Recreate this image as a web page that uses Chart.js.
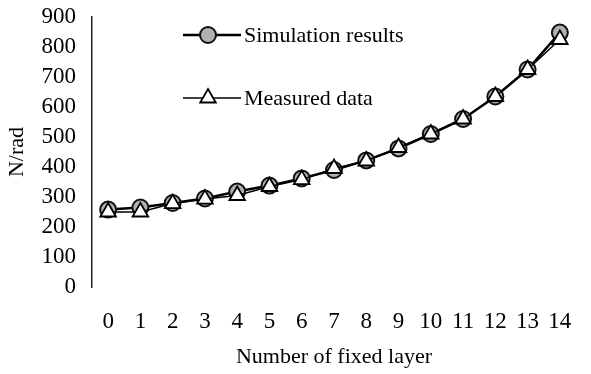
<!DOCTYPE html>
<html>
<head>
<meta charset="utf-8">
<script src="https://cdn.jsdelivr.net/npm/chart.js@4"></script>
<style>
  body { margin: 0; background: #fff; }
  #wrap { width: 591px; height: 374px; }
</style>
</head>
<body>
<div id="wrap"><canvas id="layerChart"></canvas></div>
<script>
var layers = ['0', '1', '2', '3', '4', '5', '6', '7', '8', '9', '10', '11', '12', '13', '14'];
var simulationResults = [258, 265, 280, 295, 318, 338, 362, 390, 422, 462, 510, 560, 635, 725, 848];
var measuredData = [250, 250, 278, 293, 305, 335, 358, 395, 420, 465, 510, 560, 635, 725, 825];
var yTicks = [0, 100, 200, 300, 400, 500, 600, 700, 800, 900];

var serif = "'Liberation Serif', 'DejaVu Serif', serif";

// legend sits inside the plot, so draw it by hand
var insideLegend = {
    id: 'insideLegend',
    afterDraw: function (chart) {
        var ctx = chart.ctx;
        var rows = [{ y: 35, ds: 0 }, { y: 98, ds: 1 }];
        ctx.save();
        rows.forEach(function (r) {
            var ds = chart.data.datasets[r.ds];
            ctx.strokeStyle = '#000';
            ctx.lineWidth = ds.borderWidth;
            ctx.beginPath();
            ctx.moveTo(183, r.y);
            ctx.lineTo(241, r.y);
            ctx.stroke();
            ctx.fillStyle = ds.pointBackgroundColor;
            ctx.strokeStyle = ds.pointBorderColor;
            ctx.lineWidth = ds.pointBorderWidth;
            Chart.helpers.drawPoint(ctx, {
                pointStyle: ds.pointStyle,
                radius: ds.pointRadius,
                borderWidth: ds.pointBorderWidth,
                rotation: 0
            }, 208, r.y);
            ctx.fillStyle = '#000';
            ctx.font = '22px ' + serif;
            ctx.textBaseline = 'middle';
            ctx.fillText(ds.label, 244, r.y + 1);
        });
        ctx.restore();
    }
};

new Chart(document.getElementById('layerChart').getContext('2d'), {
    type: 'line',
    data: {
        labels: layers,
        datasets: [{
            label: 'Simulation results',
            data: simulationResults,
            order: 1,
            borderColor: '#000',
            borderWidth: 2.5,
            pointStyle: 'circle',
            pointRadius: 8,
            pointBackgroundColor: '#b0b0b0',
            pointBorderColor: '#111',
            pointBorderWidth: 2
        }, {
            label: 'Measured data',
            data: measuredData,
            order: 0,
            borderColor: '#000',
            borderWidth: 1.5,
            pointStyle: 'triangle',
            pointRadius: 9,
            pointBackgroundColor: '#fff',
            pointBorderColor: '#000',
            pointBorderWidth: 1.8
        }]
    },
    options: {
        responsive: true,
        maintainAspectRatio: false,
        animation: false,
        layout: { padding: { top: 17, right: 15, left: 0, bottom: 0 } },
        plugins: {
            legend: { display: false },
            tooltip: { enabled: false }
        },
        scales: {
            x: {
                offset: true,
                grid: { display: false, drawTicks: false },
                border: { display: false },
                ticks: { color: '#000', font: { family: serif, size: 23 }, padding: 21, autoSkip: false, maxRotation: 0 },
                title: {
                    display: true,
                    text: 'Number of fixed layer',
                    color: '#000',
                    font: { family: serif, size: 22 },
                    padding: { top: 12 }
                },
                afterFit: function (scale) {
                    scale.height = 87;
                    scale.paddingLeft = 0;
                    scale.paddingRight = 0;
                }
            },
            y: {
                min: 0,
                max: 900,
                afterBuildTicks: function (scale) {
                    scale.ticks = yTicks.map(function (v) { return { value: v }; });
                },
                grid: { display: false, drawTicks: false },
                border: { display: true, color: '#222', width: 1.5 },
                ticks: { color: '#000', font: { family: serif, size: 23 }, padding: 16, autoSkip: false },
                title: {
                    display: true,
                    text: 'N/rad',
                    color: '#000',
                    font: { family: serif, size: 22 },
                    padding: { bottom: 2 }
                },
                afterFit: function (scale) {
                    scale.width = 92;
                    scale.paddingTop = 0;
                    scale.paddingBottom = 0;
                }
            }
        }
    },
    plugins: [insideLegend]
});
</script>
</body>
</html>
